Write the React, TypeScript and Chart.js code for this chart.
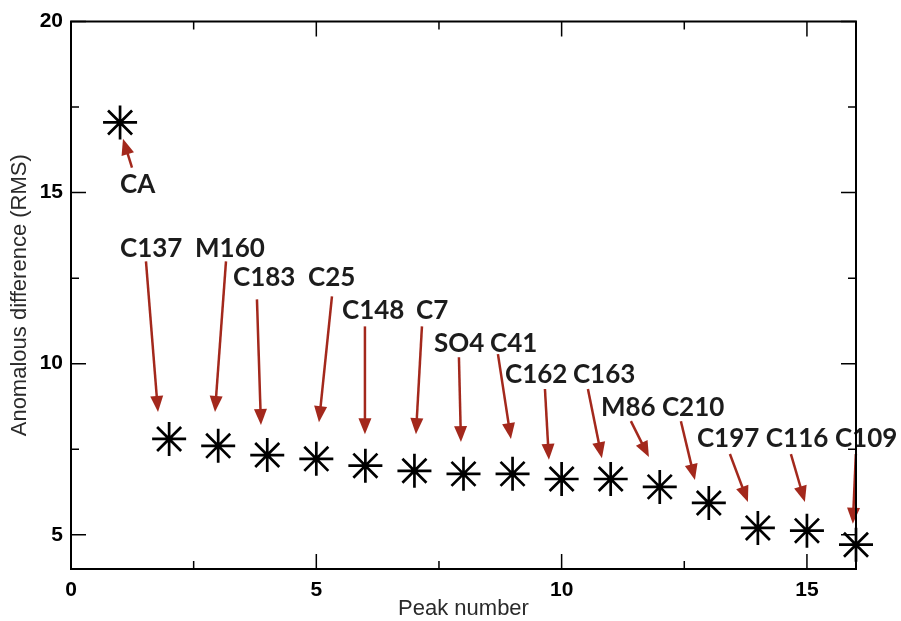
import React, { useEffect, useRef } from "react";
import { Chart, registerables } from "chart.js";

Chart.register(...registerables);

// ---- data ----
const peakNumbers = [1, 2, 3, 4, 5, 6, 7, 8, 9, 10, 11, 12, 13, 14, 15, 16];
const rmsValues = [17.05, 7.8, 7.6, 7.33, 7.22, 7.02, 6.87, 6.78, 6.78, 6.63, 6.63, 6.4, 5.93, 5.2, 5.12, 4.71];
const peakNames = ["CA", "C137", "M160", "C183", "C25", "C148", "C7", "SO4", "C41", "C162", "C163", "M86", "C210", "C197", "C116", "C109"];

const xMajorTicks = [0, 5, 10, 15];
const xMinorTicks = [2.5, 7.5, 12.5];
const yMajorTicks = [5, 10, 15, 20];
const yMinorTicks = [7.5, 12.5, 17.5];

const xTitle = "Peak number";
const yTitle = "Anomalous difference (RMS)";

// ---- annotation layout (data units): label anchor (left, baseline), arrow tail, arrow head ----
const labelPos: [number, number][] = [
  [0.999, 15.0], [0.999, 13.13], [2.527, 13.13], [3.301, 12.26], [4.83, 12.26],
  [5.523, 11.3], [7.031, 11.3], [7.398, 10.34], [8.539, 10.34], [8.845, 9.43],
  [10.23, 9.43], [10.801, 8.47], [12.044, 8.47], [12.757, 7.57], [14.163, 7.57], [15.57, 7.57],
];
const arrowTail: [number, number][] = [
  [1.243, 15.73], [1.528, 12.99], [3.159, 12.99], [3.79, 11.88], [5.319, 11.97],
  [5.991, 11.09], [7.153, 11.09], [7.907, 10.19], [8.702, 10.28], [9.66, 9.26],
  [10.536, 9.26], [11.412, 8.32], [12.431, 8.32], [13.43, 7.36], [14.673, 7.36], [15.997, 7.36],
];
const arrowHead: [number, number][] = [
  [1.06, 16.57], [1.773, 8.59], [2.935, 8.59], [3.872, 8.21], [5.054, 8.29],
  [5.991, 7.94], [7.031, 7.94], [7.948, 7.71], [8.967, 7.8], [9.741, 7.19],
  [10.821, 7.24], [11.779, 7.27], [12.717, 6.6], [13.797, 5.96], [14.958, 5.96], [15.936, 5.32],
];

const ARROW_COLOR = "#a3281c";
const LABEL_COLOR = "#1c1c1c";

const framePlugin = {
  id: "frameTicks",
  afterDraw(chart: any) {
    const { ctx, chartArea } = chart;
    const xs = chart.scales.x;
    const ys = chart.scales.y;
    const { left, right, top, bottom } = chartArea;
    ctx.save();
    ctx.strokeStyle = "#000";
    ctx.lineWidth = 2;
    ctx.beginPath();
    ctx.rect(left, top, right - left, bottom - top);
    ctx.stroke();
    ctx.lineWidth = 1.5;
    ctx.beginPath();
    const tickX = (vals: number[], len: number) => {
      vals.forEach((v) => {
        const px = xs.getPixelForValue(v);
        ctx.moveTo(px, bottom);
        ctx.lineTo(px, bottom - len);
        ctx.moveTo(px, top);
        ctx.lineTo(px, top + len);
      });
    };
    const tickY = (vals: number[], len: number) => {
      vals.forEach((v) => {
        const py = ys.getPixelForValue(v);
        ctx.moveTo(left, py);
        ctx.lineTo(left + len, py);
        ctx.moveTo(right, py);
        ctx.lineTo(right - len, py);
      });
    };
    tickX(xMajorTicks, 15);
    tickX(xMinorTicks, 8);
    tickY(yMajorTicks, 15);
    tickY(yMinorTicks, 8);
    ctx.stroke();
    ctx.restore();
  },
};

const annotationPlugin = {
  id: "peakAnnotations",
  afterDatasetsDraw(chart: any) {
    const { ctx } = chart;
    const xs = chart.scales.x;
    const ys = chart.scales.y;
    ctx.save();
    // arrows
    peakNames.forEach((_, i) => {
      const x0 = xs.getPixelForValue(arrowTail[i][0]);
      const y0 = ys.getPixelForValue(arrowTail[i][1]);
      const x1 = xs.getPixelForValue(arrowHead[i][0]);
      const y1 = ys.getPixelForValue(arrowHead[i][1]);
      const ang = Math.atan2(y1 - y0, x1 - x0);
      const headLen = 16;
      const halfW = 6.5;
      const bx = x1 - Math.cos(ang) * headLen;
      const by = y1 - Math.sin(ang) * headLen;
      ctx.strokeStyle = ARROW_COLOR;
      ctx.fillStyle = ARROW_COLOR;
      ctx.lineWidth = 2.5;
      ctx.beginPath();
      ctx.moveTo(x0, y0);
      ctx.lineTo(bx + Math.cos(ang) * 2, by + Math.sin(ang) * 2);
      ctx.stroke();
      ctx.beginPath();
      ctx.moveTo(x1, y1);
      ctx.lineTo(bx - Math.sin(ang) * halfW, by + Math.cos(ang) * halfW);
      ctx.lineTo(bx + Math.sin(ang) * halfW, by - Math.cos(ang) * halfW);
      ctx.closePath();
      ctx.fill();
    });
    // labels
    ctx.fillStyle = LABEL_COLOR;
    ctx.font = "bold 26px Lato";
    ctx.textAlign = "left";
    ctx.textBaseline = "alphabetic";
    peakNames.forEach((name, i) => {
      ctx.fillText(name, xs.getPixelForValue(labelPos[i][0]), ys.getPixelForValue(labelPos[i][1]));
    });
    ctx.restore();
  },
};

export default function App() {
  const canvasRef = useRef<HTMLCanvasElement | null>(null);

  useEffect(() => {
    if (!canvasRef.current) return;
    const tickFont = { family: "'Liberation Sans', Arial, sans-serif", size: 21, weight: "bold" as const };
    const titleFont = { family: "'Liberation Sans', Arial, sans-serif", size: 22, weight: "normal" as const, lineHeight: 1.2 };
    const chart = new Chart(canvasRef.current, {
      type: "scatter",
      data: {
        datasets: [
          {
            data: peakNumbers.map((p, i) => ({ x: p, y: rmsValues[i] })),
            pointStyle: "star",
            pointRadius: 17,
            pointBorderWidth: 2.7,
            borderColor: "#000",
            backgroundColor: "#000",
            showLine: false,
            clip: false,
          } as any,
        ],
      },
      plugins: [framePlugin, annotationPlugin],
      options: {
        animation: false,
        responsive: true,
        maintainAspectRatio: false,
        layout: { padding: { top: 21.5, right: 45, left: 0, bottom: 0 } },
        plugins: {
          legend: { display: false },
          tooltip: { enabled: false },
        },
        scales: {
          x: {
            type: "linear",
            min: 0,
            max: 16,
            grid: { display: false, drawTicks: false },
            border: { display: false },
            afterBuildTicks: (scale: any) => {
              scale.ticks = xMajorTicks.map((v) => ({ value: v }));
            },
            afterFit: (scale: any) => {
              scale.height = 52;
            },
            ticks: {
              font: tickFont,
              color: "#000",
              padding: 9,
              maxRotation: 0,
              callback: (v: any) => String(v),
            },
            title: {
              display: true,
              text: xTitle,
              font: titleFont,
              color: "#2a2a2a",
              padding: { top: 0, bottom: -1 },
            },
          },
          y: {
            type: "linear",
            min: 4,
            max: 20,
            grid: { display: false, drawTicks: false },
            border: { display: false },
            afterBuildTicks: (scale: any) => {
              scale.ticks = yMajorTicks.map((v) => ({ value: v }));
            },
            afterFit: (scale: any) => {
              scale.width = 71;
            },
            ticks: {
              font: tickFont,
              color: "#000",
              padding: 8,
              callback: (v: any) => String(v),
            },
            title: {
              display: true,
              text: yTitle,
              font: titleFont,
              color: "#2a2a2a",
              padding: { top: 7, bottom: 0 },
            },
          },
        },
      } as any,
    });
    return () => chart.destroy();
  }, []);

  return (
    <div style={{ position: "absolute", left: 0, top: 0, width: 901, height: 621, background: "#fff" }}>
      <canvas ref={canvasRef} />
    </div>
  );
}
